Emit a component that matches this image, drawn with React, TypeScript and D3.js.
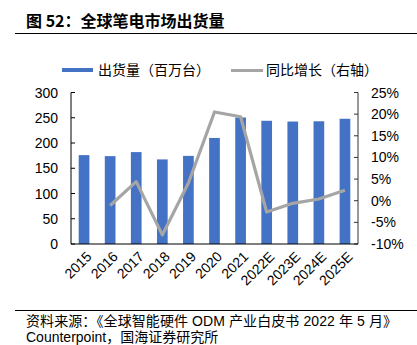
import React from "react";
import * as d3 from "d3";

const categories = ["2015", "2016", "2017", "2018", "2019", "2020", "2021", "2022E", "2023E", "2024E", "2025E"];
const shipments = [176, 174, 182, 167.5, 174.5, 210, 250.5, 244, 242.5, 243, 248];
const growth: (number | null)[] = [null, -1.1, 4.4, -7.9, 4.1, 20.5, 19.4, -2.6, -0.6, 0.4, 2.4];
const leftTicks = [0, 50, 100, 150, 200, 250, 300];
const rightTicks = [-10, -5, 0, 5, 10, 15, 20, 25];

const W = 417;
const H = 345;
const FONT = "'Liberation Sans', Arial, 'Noto Sans CJK SC', sans-serif";
const CJK = "'Noto Sans CJK SC', 'Liberation Sans', sans-serif";
const BLUE = "#4472C4";
const GRAY = "#A5A5A5";

export default function App() {
  const x0 = 71, x1 = 358, yTop = 92.5, yBot = 244;
  const x = d3.scaleBand<string>().domain(categories).range([x0, x1]).paddingInner(0.59).paddingOuter(0.295);
  const yL = d3.scaleLinear().domain([0, 300]).range([yBot, yTop]);
  const yR = d3.scaleLinear().domain([-10, 25]).range([yBot, yTop]);
  const cx = (c: string) => (x(c) as number) + x.bandwidth() / 2;
  const line = d3
    .line<number | null>()
    .defined((d) => d !== null)
    .x((_, i) => cx(categories[i]))
    .y((d) => yR(d as number));

  return (
    <svg width={W} height={H} style={{ position: "absolute", left: 0, top: 0, background: "#fff" }}>
      <text x={26} y={27} fontFamily={CJK} fontSize={16} fontWeight="bold" fill="#000">
        图 52：全球笔电市场出货量
      </text>
      <line x1={15} x2={417} y1={33.5} y2={33.5} stroke="#000" strokeWidth={1} />

      {/* legend */}
      <rect x={62} y={68} width={31} height={4} fill={BLUE} />
      <text x={98} y={75} fontFamily={CJK} fontSize={14} fill="#000">出货量（百万台）</text>
      <line x1={231} x2={263} y1={70.5} y2={70.5} stroke={GRAY} strokeWidth={3} />
      <text x={266} y={75} fontFamily={CJK} fontSize={14} fill="#000">同比增长（右轴）</text>

      {/* bars */}
      {categories.map((c, i) => (
        <rect key={c} x={x(c)} y={yL(shipments[i])} width={x.bandwidth()} height={yBot - yL(shipments[i])} fill={BLUE} />
      ))}

      {/* line */}
      <path d={line(growth) || ""} fill="none" stroke={GRAY} strokeWidth={3.2} strokeLinejoin="round" />

      {/* left axis */}
      <line x1={x0} x2={x0} y1={yTop} y2={yBot} stroke="#000" />
      {leftTicks.map((t) => (
        <g key={t}>
          <line x1={x0} x2={x0 + 4} y1={yL(t)} y2={yL(t)} stroke="#000" />
          <text x={58} y={yL(t)} dy="0.36em" textAnchor="end" fontFamily={FONT} fontSize={14} fill="#000">{t}</text>
        </g>
      ))}

      {/* right axis */}
      <line x1={x1} x2={x1} y1={yTop} y2={yBot} stroke="#333" />
      {rightTicks.map((t) => (
        <g key={t}>
          <line x1={x1 - 4} x2={x1} y1={yR(t)} y2={yR(t)} stroke="#333" />
          <text x={371} y={yR(t)} dy="0.36em" textAnchor="start" fontFamily={FONT} fontSize={14} fill="#000">{t}%</text>
        </g>
      ))}

      {/* bottom axis */}
      <line x1={x0} x2={x1} y1={yBot} y2={yBot} stroke="#000" />
      {categories.map((c) => (
        <text
          key={c}
          transform={`translate(${cx(c) + 5},${yBot + 10}) rotate(-45)`}
          textAnchor="end"
          dy="0.36em"
          fontFamily={FONT}
          fontSize={14}
          fill="#000"
        >
          {c}
        </text>
      ))}

      {/* footer */}
      <line x1={15} x2={417} y1={310.5} y2={310.5} stroke="#000" strokeWidth={1} />
      <text x={26} y={325.5} fontFamily={FONT} fontSize={14} fill="#000" textLength={371} lengthAdjust="spacing">
        资料来源：《全球智能硬件 ODM 产业白皮书 2022 年 5 月》
      </text>
      <text x={26} y={342} fontFamily={FONT} fontSize={14} fill="#000">
        Counterpoint，国海证券研究所
      </text>
    </svg>
  );
}
